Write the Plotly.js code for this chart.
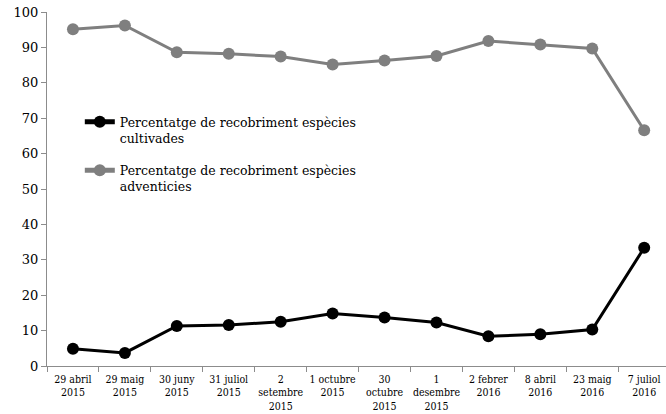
<!DOCTYPE html>
<html>
<head>
<meta charset="utf-8">
<script src="https://cdn.plot.ly/plotly-3.0.1.min.js"></script>
<style>
  html, body { margin: 0; padding: 0; background: #fff; }
  #chart { width: 666px; height: 414px; }
</style>
</head>
<body>
<div id="chart"></div>
<script>
// Sampling dates (three-line labels)
const dates = [
  "29 abril<br>2015", "29 maig<br>2015", "30 juny<br>2015", "31 juliol<br>2015",
  "2<br>setembre<br>2015", "1 octubre<br>2015", "30<br>octubre<br>2015", "1<br>desembre<br>2015",
  "2 febrer<br>2016", "8 abril<br>2016", "23 maig<br>2016", "7 juliol<br>2016"
];

// Cover percentage, cultivated species
const cultivades = [4.9, 3.7, 11.3, 11.6, 12.5, 14.8, 13.7, 12.3, 8.4, 9.0, 10.3, 33.4];

// Cover percentage, weed species
const adventicies = [95.1, 96.2, 88.6, 88.2, 87.4, 85.2, 86.3, 87.6, 91.8, 90.8, 89.7, 66.6];

const seriesNames = [
  "Percentatge de recobriment espècies<br>cultivades",
  "Percentatge de recobriment espècies<br>adventicies"
];

const serif = "DejaVu Serif, serif";
const serifNarrow = "DejaVu Serif Condensed, DejaVu Serif, serif";

const traces = [
  {
    x: dates, y: cultivades, name: seriesNames[0], legendgroup: "a",
    type: "scatter", mode: "lines+markers",
    line: { color: "#000000", width: 3 },
    marker: { color: "#000000", size: 12 }
  },
  {
    x: dates, y: adventicies, name: seriesNames[1], legendgroup: "b",
    type: "scatter", mode: "lines+markers",
    line: { color: "#7f7f7f", width: 3 },
    marker: { color: "#7f7f7f", size: 12 }
  }
];

const layout = {
  width: 666, height: 414,
  margin: { l: 47, r: 0, t: 12, b: 48 },
  paper_bgcolor: "#ffffff", plot_bgcolor: "#ffffff",
  font: { family: serif, size: 12, color: "#000000" },
  showlegend: true,
  legend: {
    x: 0.053, y: 0.731, xanchor: "left", yanchor: "top",
    bgcolor: "rgba(0,0,0,0)",
    font: { family: serif, size: 12.5, color: "#000000" },
    valign: "top",
    tracegroupgap: 13, itemsizing: "constant"
  },
  xaxis: {
    type: "category",
    range: [-0.5, 11.42],
    showgrid: false, zeroline: false,
    showline: true, linecolor: "#8c8c8c", linewidth: 1,
    ticks: "outside", ticklen: 5, tickcolor: "#8c8c8c",
    tickson: "boundaries",
    ticklabelstandoff: 3,
    tickfont: { family: serifNarrow, size: 10.5, color: "#000000" },
    tickangle: 0,
    fixedrange: true
  },
  yaxis: {
    range: [0, 100], dtick: 10,
    showgrid: false, zeroline: false,
    showline: true, linecolor: "#8c8c8c", linewidth: 1,
    ticks: "outside", ticklen: 5, tickcolor: "#8c8c8c",
    tickfont: { family: serif, size: 13, color: "#000000" },
    fixedrange: true
  }
};

Plotly.newPlot("chart", traces, layout, { displayModeBar: false, staticPlot: true });
</script>
</body>
</html>
